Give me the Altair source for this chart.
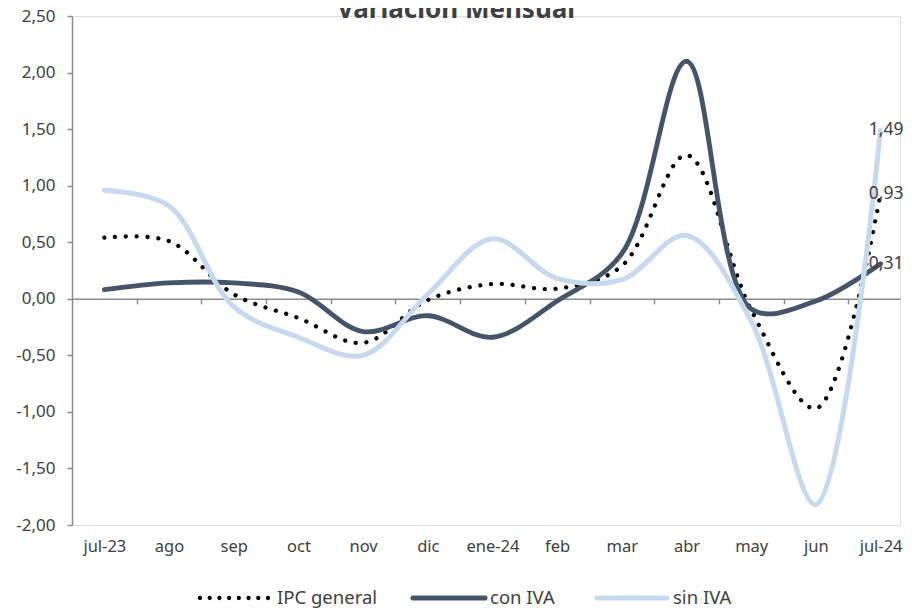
import altair as alt
import pandas as pd

# ---------------- data ----------------
meses = ["jul-23", "ago", "sep", "oct", "nov", "dic", "ene-24",
         "feb", "mar", "abr", "may", "jun", "jul-24"]
ipc_general = [0.54, 0.51, 0.04, -0.17, -0.39, -0.01, 0.13, 0.09, 0.29, 1.27, -0.10, -0.97, 0.93]
con_iva = [0.08, 0.14, 0.14, 0.06, -0.29, -0.15, -0.34, -0.02, 0.40, 2.10, -0.09, -0.02, 0.31]
sin_iva = [0.96, 0.82, -0.07, -0.34, -0.50, 0.04, 0.53, 0.18, 0.17, 0.56, -0.20, -1.82, 1.49]
series = ["IPC general", "con IVA", "sin IVA"]
y_ticks = [-2.0, -1.5, -1.0, -0.5, 0.0, 0.5, 1.0, 1.5, 2.0, 2.5]
titulo = "Variación Mensual"

# ---------------- styling ----------------
FONT = "Noto Sans"
TXT = "#404040"
AX = "#8C8C8C"
COLORS = {"IPC general": "#000000", "con IVA": "#44546A", "sin IVA": "#C5D9F1"}
W, H = 828, 509
YMIN, YMAX = y_ticks[0], y_ticks[-1]
XDOM = [-0.5, 12.3]
INTERP = "catmull-rom"

rows = []
for name, vals in zip(series, [ipc_general, con_iva, sin_iva]):
    for i, (m, v) in enumerate(zip(meses, vals)):
        rows.append({"idx": i, "mes": m, "serie": name, "valor": v,
                     "etiqueta": f"{v:.2f}".replace(".", ",")})
df = pd.DataFrame(rows)

zero_offset = -(H * (0 - YMIN) / (YMAX - YMIN))

label_array = "[" + ",".join(f"'{m}'" for m in meses) + "]"
x_values = [k * 0.5 for k in range(0, 2 * (len(meses) - 1) + 1)]

x_enc = alt.X(
    "idx:Q",
    scale=alt.Scale(domain=XDOM, nice=False, zero=False),
    axis=alt.Axis(
        title=None, values=x_values, grid=False,
        labelExpr=f"datum.value % 1 == 0 ? {label_array}[datum.value] : ''",
        tickColor={"condition": {"test": "datum.value % 1 == 0", "value": "transparent"}, "value": AX},
        tickSize=5, tickWidth=1.5,
        domainColor=AX, domainWidth=1.5,
        offset=zero_offset, labelPadding=235,
        labelFont=FONT, labelFontSize=16.5, labelColor=TXT,
        labelFlush=False, labelOverlap=False, labelBound=False,
    ),
)
y_enc = alt.Y(
    "valor:Q",
    scale=alt.Scale(domain=[YMIN, YMAX], nice=False, zero=False),
    axis=alt.Axis(
        title=None, values=y_ticks, grid=False,
        labelExpr="replace(replace(format(datum.value, '.2f'), '.', ','), '\u2212', '-')",
        tickSize=5, tickWidth=1.5, tickColor=AX,
        domainColor=AX, domainWidth=1.5,
        labelPadding=12, labelFont=FONT, labelFontSize=17, labelColor=TXT,
    ),
)

base = alt.Chart(df).encode(x=x_enc, y=y_enc)

line_ipc = base.transform_filter(alt.datum.serie == "IPC general").mark_line(
    interpolate=INTERP, color=COLORS["IPC general"], strokeWidth=4.3,
    strokeDash=[0.01, 10.8], strokeCap="round")
line_con = base.transform_filter(alt.datum.serie == "con IVA").mark_line(
    interpolate=INTERP, color=COLORS["con IVA"], strokeWidth=4.8, strokeCap="round")
line_sin = base.transform_filter(alt.datum.serie == "sin IVA").mark_line(
    interpolate=INTERP, color=COLORS["sin IVA"], strokeWidth=5, strokeCap="round")

labels = base.transform_filter(alt.datum.idx == len(meses) - 1).mark_text(
    align="right", baseline="middle", dx=23, font=FONT, fontSize=17.5, color=TXT
).encode(text="etiqueta:N")

# ---------------- title (drawn, partly cut at the top as in the reference) ----------------
title_layer = alt.Chart(alt.Data(values=[{"t": titulo}])).mark_text(
    align="center", baseline="alphabetic", font=FONT, fontSize=26, fontWeight="bold", color=TXT
).encode(x=alt.value(384), y=alt.value(2), text="t:N")

# ---------------- legend (drawn) ----------------
LEG_Y = 582
leg_layout = {
    "IPC general": (128, 196, 205, [0.01, 9.7], 4.3),
    "con IVA": (341, 413, 418, None, 5),
    "sin IVA": (525, 595, 601, None, 5),
}
legend_layers = []
for name in series:
    x1, x2, xt, dash, sw = leg_layout[name]
    one = alt.Data(values=[{"serie": name}])
    kw = dict(color=COLORS[name], strokeWidth=sw, strokeCap="round")
    if dash:
        kw["strokeDash"] = dash
    legend_layers.append(
        alt.Chart(one).mark_rule(**kw).encode(
            x=alt.value(x1), x2=alt.value(x2), y=alt.value(LEG_Y)))
    legend_layers.append(
        alt.Chart(one).mark_text(align="left", baseline="middle", font=FONT,
                                 fontSize=18.5, color=TXT).encode(
            x=alt.value(xt), y=alt.value(LEG_Y), text="serie:N"))

chart = alt.layer(line_ipc, line_con, line_sin, labels, title_layer, *legend_layers).properties(
    width=W, height=H,
    autosize=alt.AutoSizeParams(type="none"),
    padding={"left": 64, "top": 8, "right": 4, "bottom": 84},
).configure_view(strokeWidth=0).configure(background="white")

chart.save("out.html", embed_options={"renderer": "svg", "actions": False})
